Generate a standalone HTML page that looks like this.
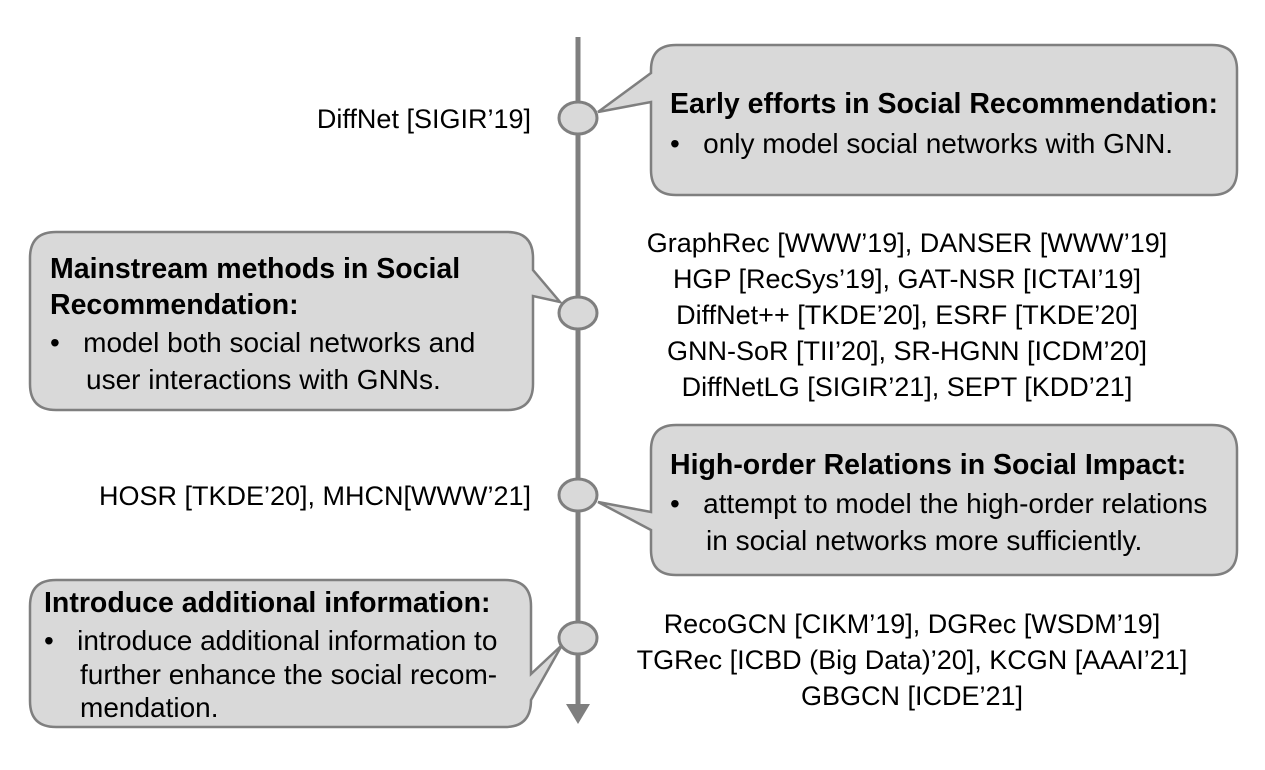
<!DOCTYPE html>
<html><head><meta charset="utf-8"><style>
body{margin:0;background:#fff}
svg text{font-family:"Liberation Sans",sans-serif;fill:#000}
.b{font-weight:bold;font-size:28.5px}
.t{font-size:28px}
.l{font-size:27px}
</style></head><body>
<svg width="1265" height="765" viewBox="0 0 1265 765">
<g>
<line x1="578" y1="37" x2="578" y2="708" stroke="#7f7f7f" stroke-width="5"/>
<polygon points="566,704 590,704 578,724" fill="#7f7f7f"/>
</g>
<g fill="#d9d9d9" stroke="#7f7f7f" stroke-width="3">
<ellipse cx="578" cy="118" rx="19" ry="16"/>
<ellipse cx="578" cy="313" rx="19" ry="16"/>
<ellipse cx="578" cy="495" rx="19" ry="16"/>
<ellipse cx="578" cy="638" rx="19" ry="16"/>
</g>
<g fill="#d9d9d9" stroke="#7f7f7f" stroke-width="2.5">
<path d="M676,45 H1212 Q1237,45 1237,70 V170 Q1237,195 1212,195 H676 Q651,195 651,170 V102 L598,112 L651,73 V70 Q651,45 676,45 Z"/>
<path d="M56,232 H507 Q533,232 533,258 V270 L560,302 L533,296 V384 Q533,410 507,410 H56 Q30,410 30,384 V258 Q30,232 56,232 Z"/>
<path d="M676,425 H1212 Q1237,425 1237,450 V550 Q1237,575 1212,575 H676 Q651,575 651,550 V530 L598,502 L651,512 V450 Q651,425 676,425 Z"/>
<path d="M56,580 H505 Q531,580 531,606 V674 L562,645 L531,700 Q531,727 505,727 H56 Q30,727 30,701 V606 Q30,580 56,580 Z"/>
</g>
<g>
<text class="b" x="670" y="113">Early efforts in Social Recommendation:</text>
<text class="t" x="670" y="153">•&#160;&#160;&#160;only model social networks with GNN.</text>
<text class="b" x="50" y="278">Mainstream methods in Social</text>
<text class="b" x="50" y="314">Recommendation:</text>
<text class="t" x="50" y="352">•&#160;&#160;&#160;model both social networks and</text>
<text class="t" x="86" y="389">user interactions with GNNs.</text>
<text class="b" x="670" y="474">High-order Relations in Social Impact:</text>
<text class="t" x="670" y="513">•&#160;&#160;&#160;attempt to model the high-order relations</text>
<text class="t" x="706" y="550">in social networks more sufficiently.</text>
<text class="b" x="44" y="612">Introduce additional information:</text>
<text class="t" x="44" y="650">•&#160;&#160;&#160;introduce additional information to</text>
<text class="t" x="80" y="684">further enhance the social recom-</text>
<text class="t" x="80" y="717">mendation.</text>
</g>
<g>
<text class="l" x="531" y="128" text-anchor="end">DiffNet [SIGIR’19]</text>
<text class="l" x="907" y="252" text-anchor="middle">GraphRec [WWW’19], DANSER [WWW’19]</text>
<text class="l" x="907" y="288" text-anchor="middle">HGP [RecSys’19], GAT-NSR [ICTAI’19]</text>
<text class="l" x="907" y="324" text-anchor="middle">DiffNet++ [TKDE’20], ESRF [TKDE’20]</text>
<text class="l" x="907" y="360" text-anchor="middle">GNN-SoR [TII’20], SR-HGNN [ICDM’20]</text>
<text class="l" x="907" y="396" text-anchor="middle">DiffNetLG [SIGIR’21], SEPT [KDD’21]</text>
<text class="l" x="531" y="505" text-anchor="end">HOSR [TKDE’20], MHCN[WWW’21]</text>
<text class="l" x="912" y="633" text-anchor="middle">RecoGCN [CIKM’19], DGRec [WSDM’19]</text>
<text class="l" x="912" y="669" text-anchor="middle">TGRec [ICBD (Big Data)’20], KCGN [AAAI’21]</text>
<text class="l" x="912" y="705" text-anchor="middle">GBGCN [ICDE’21]</text>
</g>
</svg>
</body></html>
